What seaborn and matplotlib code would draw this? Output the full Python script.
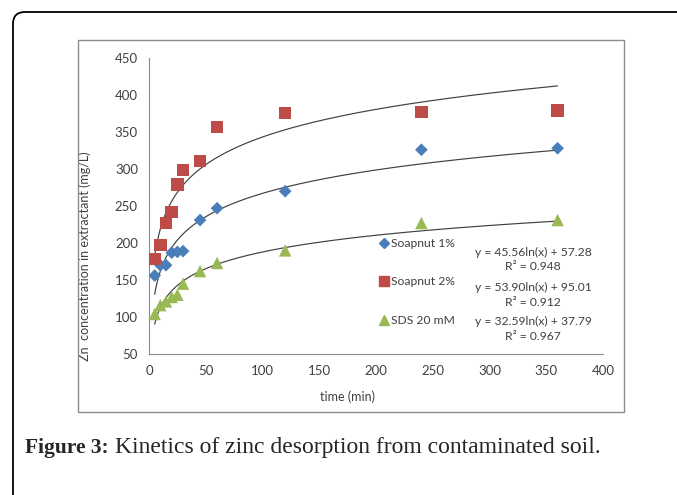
import numpy as np
import pandas as pd
import matplotlib
matplotlib.use("Agg")
import matplotlib.pyplot as plt
import seaborn as sns
from matplotlib.patches import Rectangle, FancyBboxPatch
from matplotlib.lines import Line2D

# ---- data ----
time_min = [5, 10, 15, 20, 25, 30, 45, 60, 120, 240, 360]
soapnut1 = [156, 170, 170, 187, 188, 189, 231, 247, 270, 326, 328]
soapnut2 = [178, 197, 227, 242, 279, 299, 311, 357, 376, 377, 379]
sds20 = [104, 116, 121, 127, 130, 145, 162, 173, 190, 227, 231]
series_names = ["Soapnut 1%", "Soapnut 2%", "SDS 20 mM"]
fit_slope = [45.56, 53.90, 32.59]
fit_intercept = [57.28, 95.01, 37.79]
fit_r2 = [0.948, 0.912, 0.967]
x_ticks = [0, 50, 100, 150, 200, 250, 300, 350, 400]
y_ticks = [50, 100, 150, 200, 250, 300, 350, 400, 450]

colors = ["#4A7EBB", "#BE4B48", "#98B954"]
markers = ["D", "s", "^"]
msizes = [42, 80, 80]

df = pd.DataFrame({
    "time": time_min * 3,
    "conc": soapnut1 + soapnut2 + sds20,
    "series": sum([[n] * len(time_min) for n in series_names], []),
})

sns.set_style("white")
plt.rcParams["font.family"] = ["Lato", "DejaVu Sans"]

fig = plt.figure(figsize=(6.77, 4.95), dpi=100)
ax = fig.add_axes([149 / 677, 1 - 354 / 495, (603 - 149) / 677, (354 - 58) / 495])

# outer rounded frame (page box), in inches
fig.patches.append(FancyBboxPatch((0.13, -1.0), 10.0, 4.95 - 0.12 + 1.0,
                                  boxstyle="round,pad=0,rounding_size=0.12",
                                  transform=fig.dpi_scale_trans, fill=False,
                                  edgecolor="black", linewidth=1.3, zorder=0))
# chart frame
fig.patches.append(Rectangle((78 / 677, 1 - 412 / 495), (624 - 78) / 677, (412 - 40) / 495,
                             transform=fig.transFigure, fill=False,
                             edgecolor="#8C8C8C", linewidth=1.0, zorder=0))

# trend lines
xs = np.linspace(time_min[0], time_min[-1], 400)
for a, b in zip(fit_slope, fit_intercept):
    sns.lineplot(x=xs, y=a * np.log(xs) + b, ax=ax, color="#404040", linewidth=0.85, zorder=2)

for name, c, m, s in zip(series_names, colors, markers, msizes):
    sub = df[df["series"] == name]
    sns.scatterplot(data=sub, x="time", y="conc", ax=ax, color=c, marker=m, s=s,
                    edgecolor="none", zorder=3, legend=False)

ax.set_xlim(0, 400)
ax.set_ylim(50, 450)
ax.set_xticks(x_ticks)
ax.set_yticks(y_ticks)
ax.tick_params(axis="both", labelsize=9.5, labelcolor="#404040", length=4, width=0.8,
               direction="out", pad=4, color="#8C8C8C")
for sp in ["top", "right"]:
    ax.spines[sp].set_visible(False)
for sp in ["left", "bottom"]:
    ax.spines[sp].set_color("#8C8C8C")
    ax.spines[sp].set_linewidth(0.8)
ax.set_xlabel("time (min)", fontsize=9, color="#404040")
ax.set_ylabel("Zn  concentration in extractant (mg/L)", fontsize=9, color="#404040")
ax.xaxis.set_label_coords((348 - 149) / 454, (354 - 390) / 296)
ax.yaxis.set_label_coords((91 - 149) / 454, (354 - 256) / 296)

handles = [Line2D([], [], linestyle="none", marker=m, color=c,
                  markersize=(4.8 if m == "D" else 6.5))
           for m, c in zip(markers, colors)]
leg = ax.legend(handles, series_names, loc="upper left",
                bbox_to_anchor=((381 - 149) / 454, 1 - (238 - 58) / 296),
                frameon=False, fontsize=8.7, labelspacing=2.27, handlelength=0.5,
                handletextpad=0.35, borderpad=0, borderaxespad=0)
for t in leg.get_texts():
    t.set_color("#404040")

eq_y = [252, 287, 321]
for a, b, r2, yy in zip(fit_slope, fit_intercept, fit_r2, eq_y):
    fig.text(533 / 677, 1 - yy / 495, f"y = {a:.2f}ln(x) + {b:.2f}", ha="center", va="center",
             fontsize=8.7, color="#404040")
    fig.text(533 / 677, 1 - (yy + 15) / 495, f"R² = {r2:.3f}", ha="center", va="center",
             fontsize=8.7, color="#404040")

# caption
fig.text(25 / 677, 1 - 453 / 495, "Figure 3:", fontsize=15.5, fontweight="bold",
         family=["Liberation Serif", "DejaVu Serif"], ha="left", va="baseline")
fig.text(115 / 677, 1 - 453 / 495, "Kinetics of zinc desorption from contaminated soil.",
         fontsize=17, family=["Liberation Serif", "DejaVu Serif"], ha="left", va="baseline")

fig.savefig("out.png", dpi=100)
